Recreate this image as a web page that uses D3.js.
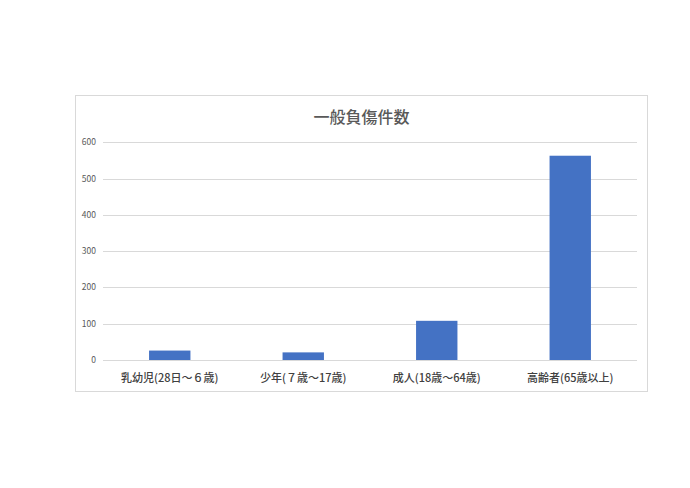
<!DOCTYPE html>
<html>
<head>
<meta charset="utf-8">
<script src="https://cdn.jsdelivr.net/npm/d3@7"></script>
<style>
  body { margin: 0; background: #fff; }
  text { font-family: "Noto Sans CJK JP", "Noto Sans", sans-serif; }
</style>
</head>
<body>
<div id="chart"></div>
<script>
const categories = ["乳幼児(28日～６歳)", "少年(７歳～17歳)", "成人(18歳～64歳)", "高齢者(65歳以上)"];
const values = [26, 21, 108, 563];
const yTicks = [0, 100, 200, 300, 400, 500, 600];
const title = "一般負傷件数";

const w = 690;
const h = 488;

const svg = d3.select("#chart")
  .append("svg")
  .attr("width", w)
  .attr("height", h);

// chart frame
svg.append("rect")
  .attr("x", 75.5)
  .attr("y", 95.5)
  .attr("width", 572)
  .attr("height", 296)
  .attr("fill", "#fff")
  .attr("stroke", "#d9d9d9");

svg.append("text")
  .attr("x", 361.5)
  .attr("y", 123)
  .attr("text-anchor", "middle")
  .attr("font-size", 16)
  .attr("font-weight", 500)
  .attr("fill", "#595959")
  .text(title);

const plot = { left: 103, right: 637, top: 142.3, bottom: 360 };

const xScale = d3.scaleBand()
  .domain(categories)
  .range([plot.left, plot.right]);

const yScale = d3.scaleLinear()
  .domain([0, 600])
  .range([plot.bottom, plot.top]);

const barW = xScale.bandwidth() * 0.31;

// gridlines
svg.append("g")
  .selectAll("line")
  .data(yTicks)
  .enter()
  .append("line")
  .attr("x1", plot.left)
  .attr("x2", plot.right)
  .attr("y1", d => Math.round(yScale(d)) + 0.5)
  .attr("y2", d => Math.round(yScale(d)) + 0.5)
  .attr("stroke", "#d9d9d9");

// y tick labels
svg.append("g")
  .selectAll("text")
  .data(yTicks)
  .enter()
  .append("text")
  .attr("x", 96)
  .attr("y", d => yScale(d))
  .attr("dy", "0.35em")
  .attr("text-anchor", "end")
  .attr("font-size", 8.5)
  .attr("fill", "#595959")
  .text(d => d);

// bars
svg.selectAll("rect.bar")
  .data(values)
  .enter()
  .append("rect")
  .attr("class", "bar")
  .attr("x", (d, i) => xScale(categories[i]) + (xScale.bandwidth() - barW) / 2)
  .attr("y", d => yScale(d))
  .attr("width", barW)
  .attr("height", d => plot.bottom - yScale(d))
  .attr("fill", "#4472c4");

// x labels
svg.append("g")
  .selectAll("text")
  .data(categories)
  .enter()
  .append("text")
  .attr("x", d => xScale(d) + xScale.bandwidth() / 2)
  .attr("y", 378)
  .attr("dy", "0.35em")
  .attr("text-anchor", "middle")
  .attr("font-size", 11)
  .attr("font-weight", 500)
  .attr("fill", "#404040")
  .text(d => d);
</script>
</body>
</html>
